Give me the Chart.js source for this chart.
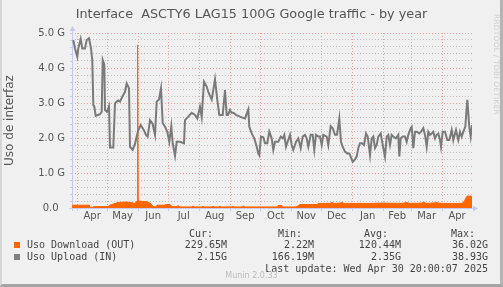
<!DOCTYPE html>
<html><head><meta charset="utf-8">
<script src="https://cdn.jsdelivr.net/npm/chart.js@4.4.1/dist/chart.umd.min.js"></script>
<style>
html,body{margin:0;padding:0;}
body{width:503px;height:287px;overflow:hidden;background:#f0f0f0;position:relative;font-family:"DejaVu Sans",sans-serif;}
#frame{position:absolute;left:0;top:0;width:503px;height:287px;box-sizing:border-box;border-left:2px solid #d6d6d6;border-right:3px solid #b4b4b4;border-bottom:3px solid #a4a4a4;pointer-events:none;}
canvas{position:absolute;left:0;top:0;}
.t{position:absolute;white-space:pre;color:#444;font-family:"DejaVu Sans Mono",monospace;font-size:10px;line-height:12px;}
.r{text-align:right;}
.sq{position:absolute;width:6px;height:6px;}
#title{position:absolute;left:0;width:503px;top:5px;text-align:center;white-space:pre;font-size:12.8px;line-height:17px;color:#555;}
#rrd{position:absolute;left:492px;top:14px;writing-mode:vertical-rl;font-size:7.5px;color:#cfcfcf;letter-spacing:0.2px;white-space:pre;}
#munin{position:absolute;left:0;width:503px;top:271px;text-align:center;font-size:8px;color:#bdbdbd;}
</style></head>
<body>
<canvas id="c" width="503" height="287"></canvas>
<div id="title">Interface  ASCTY6 LAG15 100G Google traffic - by year</div>
<div id="rrd">RRDTOOL / TOBI OETIKER</div>
<div class="t r" style="right:290px;top:228px">Cur:</div>
<div class="t r" style="right:201px;top:228px">Min:</div>
<div class="t r" style="right:115px;top:228px">Avg:</div>
<div class="t r" style="right:28px;top:228px">Max:</div>
<div class="sq" style="left:14px;top:242px;background:#ff6600"></div>
<div class="t" style="left:27px;top:239px">Uso Download (OUT)</div>
<div class="t r" style="right:276px;top:239px">229.65M</div>
<div class="t r" style="right:189px;top:239px">2.22M</div>
<div class="t r" style="right:102px;top:239px">120.44M</div>
<div class="t r" style="right:15px;top:239px">36.02G</div>
<div class="sq" style="left:14px;top:254px;background:#808080"></div>
<div class="t" style="left:27px;top:251px">Uso Upload (IN)</div>
<div class="t r" style="right:276px;top:251px">2.15G</div>
<div class="t r" style="right:189px;top:251px">166.19M</div>
<div class="t r" style="right:102px;top:251px">2.35G</div>
<div class="t r" style="right:15px;top:251px">38.93G</div>
<div class="t r" style="right:15px;top:263px">Last update: Wed Apr 30 20:00:07 2025</div>
<div id="munin">Munin 2.0.33</div>
<div id="frame"></div>
<script>
// Day index 0 = 26 Mar 2024 20:00, day 400 = 30 Apr 2025 20:00
const monthStarts = [5.17, 35.17, 66.17, 96.17, 127.17, 158.17, 188.17, 219.17, 249.17, 280.17, 311.17, 339.17, 370.17];
const monthEnds   = [35.17, 66.17, 96.17, 127.17, 158.17, 188.17, 219.17, 249.17, 280.17, 311.17, 339.17, 370.17, 400];
const monthLabels = ['Apr','May','Jun','Jul','Aug','Sep','Oct','Nov','Dec','Jan','Feb','Mar','Apr'];
const yTicks = [0, 1, 2, 3, 4, 5];

// Uso Upload (IN), G
const upDays = [1.3,3,5.3,6.3,8.7,10.3,13,14.7,17,19,20.3,21.3,22.3,23.7,28,29.7,30.7,32.3,33,35,37,38,41.3,43,44.7,46.3,48,50.7,53,54.7,57,58,60.7,63,64.7,66,68.7,70.7,72.3,74,75.7,78,80.7,83,84.7,87,89,90.7,93,95.3,97.3,99.3,100.7,103,104.7,108,112,113,116.3,119.7,123,125.3,128,129.7,132,134.7,136.3,139.7,141.3,143,145.3,147.3,150.7,153,154.7,156,158,159.5,161.3,164,166.3,169.7,173,176.3,177.3,179.7,182.3,184.7,186.3,187.3,189,191.3,193,195.3,197.3,199.7,201.3,203,206.3,208.7,210.7,212.3,214,215.7,218,219.7,221.3,224,226.3,228.7,230.7,233,234.7,236.3,238.7,240.7,242.3,244,246.3,248,249.7,251.3,254.7,256.3,258.7,260.7,263,265,267.3,269,270.7,273,275.3,277.3,278.7,280.7,283,284.7,286.3,288,290,292,294,295.7,298,299.7,301.3,303,304.7,306.3,308.7,310.7,313,314.7,316.3,318,319.7,321.3,324,326.3,327.3,328.7,330.7,333,334.7,336.3,338.7,339.7,341.3,343,345,347.3,349.7,351.3,353,354.7,356.3,358,359.7,361.3,363,364.7,366.3,368,369,370.7,373,375.3,377.3,379.7,381.3,384,386.3,388,389.7,392,393.3,395.3,397.3,398.7,400];
const upVals = [4.8,4.56,4.32,4.56,4.83,4.56,4.56,4.8,4.85,4.56,4.23,2.94,2.9,2.63,2.68,2.75,4.23,4.1,2.8,2.75,2.91,1.73,1.73,2.99,3.04,3.07,3.04,3.2,3.32,3.56,3.42,1.75,1.66,1.83,2.04,2.2,2.37,2.28,2.2,2.09,2.04,2.51,2.4,2.09,3.04,3.1,3.42,2.42,2.32,2.18,1.89,2.34,1.85,1.49,1.89,1.89,1.85,2.51,2.61,2.72,2.66,2.56,2.89,2.6,3.61,3.47,3.32,3.1,3.37,3.68,3.09,2.66,2.66,3.37,2.66,2.66,2.8,2.72,2.72,2.66,2.63,2.59,2.56,2.82,2.32,2.13,1.99,1.75,1.56,1.51,2.04,2.02,1.85,1.85,2.18,1.99,1.66,1.89,1.89,2.04,1.99,2.09,1.75,1.9,2.09,1.8,1.66,1.89,1.99,1.71,2.04,2.09,1.99,1.75,2.09,2.09,1.66,2.09,2.04,2.04,1.8,2.09,2.04,1.8,2.34,2.28,2.09,2.09,2.56,1.89,1.75,1.61,1.56,1.56,1.47,1.32,1.39,1.47,1.71,1.85,1.85,1.8,2.13,2.04,1.51,1.99,2.04,1.71,1.8,2.04,2.13,1.8,1.47,2.04,2.09,1.8,2.09,2.04,1.99,2.09,1.47,1.99,2.04,2.04,1.89,2.09,2.28,2.32,1.71,2.18,2.18,2.13,2.2,2.28,2.09,1.75,2.18,2.09,2.13,2.18,1.99,2.09,2.13,1.94,1.75,2.18,2.18,1.94,1.94,2.23,1.94,2.23,1.94,2.18,2.04,2.23,2.32,3.09,2.32,2.04,2.37];

// Uso Download (OUT), G
const dlDays = [0,17,17.5,21,22,36,37,40,43,46,55,60,63,65,65.6,66.2,70,75,79,81,84,85,92,95,98,100,105,106,108,120,121,122,130,131,132,140,141,142,147,148,149,160,161,162,170,171,173,205,206,210,211,224,226,228,245,246,258,260,262,268,270,272,300,310,330,335,337,350,352,354,365,370,390,392,395,399,400];
const dlVals = [0.08,0.08,0.02,0.02,0.04,0.04,0.07,0.1,0.13,0.16,0.17,0.15,0.13,0.2,4.66,0.2,0.19,0.18,0.12,0.04,0.03,0.08,0.08,0.1,0.1,0.04,0.04,0.07,0.03,0.03,0.06,0.03,0.03,0.05,0.03,0.03,0.05,0.03,0.03,0.05,0.03,0.03,0.05,0.03,0.03,0.06,0.03,0.03,0.07,0.07,0.03,0.03,0.06,0.1,0.1,0.13,0.13,0.17,0.13,0.14,0.16,0.13,0.13,0.14,0.13,0.16,0.13,0.14,0.17,0.13,0.15,0.13,0.13,0.18,0.34,0.34,0.33];

const PINK = 'rgba(235,140,140,0.8)';
const MINOR = 'rgba(185,185,185,0.85)';
const AXIS = 'rgb(200,200,240)';
const isMajor = v => Math.abs(v - Math.round(v)) < 1e-6;

const axesPlugin = {
  id: 'munAxes',
  beforeDatasetsDraw(chart) {
    const ctx = chart.ctx, a = chart.chartArea;
    const ys = chart.scales.y, xs = chart.scales.x;
    ctx.save();
    ctx.strokeStyle = AXIS; ctx.fillStyle = AXIS; ctx.lineWidth = 1;
    ctx.beginPath();
    ctx.moveTo(a.left + 0.5, a.bottom + 3); ctx.lineTo(a.left + 0.5, a.top - 3);
    ctx.moveTo(a.left - 3, a.bottom + 0.5); ctx.lineTo(a.right + 4, a.bottom + 0.5);
    for (let v = 0; v <= 5.0001; v += 0.2) {
      const y = Math.round(ys.getPixelForValue(v)) + 0.5;
      ctx.moveTo(a.left - 2, y); ctx.lineTo(a.left + 1, y);
    }
    monthStarts.forEach(d => {
      const x = Math.round(xs.getPixelForValue(d)) + 0.5;
      ctx.moveTo(x, a.bottom); ctx.lineTo(x, a.bottom + 3);
    });
    ctx.stroke();
    ctx.beginPath();
    ctx.moveTo(a.left - 2.5, a.top - 2); ctx.lineTo(a.left + 3.5, a.top - 2); ctx.lineTo(a.left + 0.5, a.top - 7); ctx.closePath();
    ctx.fill();
    ctx.beginPath();
    ctx.moveTo(a.right + 1, a.bottom - 2.5); ctx.lineTo(a.right + 1, a.bottom + 3.5); ctx.lineTo(a.right + 6, a.bottom + 0.5); ctx.closePath();
    ctx.fill();
    ctx.restore();
  }
};

new Chart(document.getElementById('c'), {
  type: 'line',
  data: {
    datasets: [
      {
        label: 'Uso Upload (IN)',
        data: upDays.map((d, i) => ({x: d, y: upVals[i]})),
        borderColor: '#7a7a7a', borderWidth: 2, pointRadius: 0, tension: 0, fill: false, order: 0
      },
      {
        label: 'Uso Download (OUT)',
        data: dlDays.map((d, i) => ({x: d, y: dlVals[i]})),
        borderColor: '#ff6600', backgroundColor: '#ff6600', borderWidth: 1, pointRadius: 0, tension: 0, fill: 'origin', order: 1
      }
    ]
  },
  options: {
    responsive: false, animation: false, devicePixelRatio: 1,
    layout: {padding: {left: 0, right: 31, top: 33, bottom: 64}},
    plugins: {legend: {display: false}, tooltip: {enabled: false}, title: {display: false}},
    scales: {
      x: {
        type: 'linear', position: 'bottom', min: 0, max: 400, weight: 1,
        afterBuildTicks: s => { s.ticks = monthStarts.map(v => ({value: v})); },
        afterFit: s => { s.height = 0; },
        ticks: {display: false, autoSkip: false},
        grid: {color: PINK, drawTicks: false, lineWidth: 1, borderDash: [1, 2]},
        border: {display: false, dash: [1, 2]}
      },
      xl: {
        type: 'linear', position: 'bottom', min: 0, max: 400, weight: 0,
        afterBuildTicks: s => { s.ticks = monthStarts.map((v, i) => ({value: (v + monthEnds[i]) / 2})); },
        afterFit: s => { s.height = 15; },
        ticks: {autoSkip: false, maxRotation: 0, padding: 2, color: '#555', font: {family: 'DejaVu Sans', size: 10},
          callback: (v, i) => monthLabels[i]},
        grid: {display: false, drawTicks: false},
        border: {display: false}
      },
      y: {
        type: 'linear', min: 0, max: 5,
        afterBuildTicks: s => { const t = []; for (let k = 0; k <= 25; k++) t.push({value: k * 0.2}); s.ticks = t; },
        afterFit: s => { s.width = 72; },
        ticks: {autoSkip: false, padding: 7, color: '#555', font: {family: 'DejaVu Sans', size: 10},
          callback: v => isMajor(v) ? (Math.round(v) === 0 ? '0.0  ' : yTicks[Math.round(v)].toFixed(1) + ' G') : ''},
        grid: {color: c => isMajor(c.tick.value) ? PINK : MINOR, drawTicks: false, lineWidth: 1, borderDash: [1, 2]},
        border: {display: false, dash: [1, 2]},
        title: {display: true, text: 'Uso de interfaz', color: '#555', font: {family: 'DejaVu Sans', size: 12}, padding: {top: 3, bottom: 0}}
      }
    }
  },
  plugins: [axesPlugin]
});
</script>
</body></html>
